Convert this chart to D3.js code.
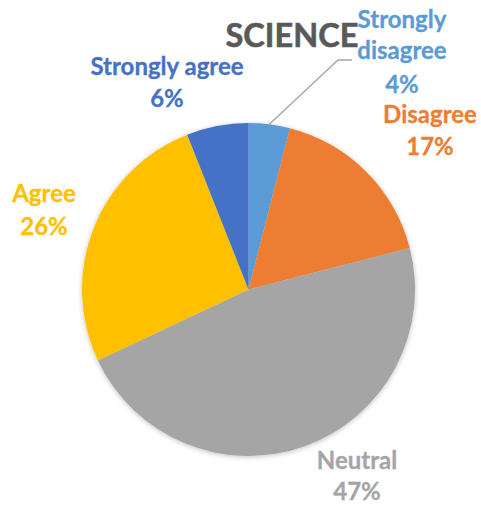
<!DOCTYPE html>
<html><head><meta charset="utf-8">
<script src="https://cdn.jsdelivr.net/npm/d3@7"></script>
<style>body{margin:0;background:#fff}svg{display:block}</style>
</head><body>
<script>
const categories = ["Strongly disagree","Disagree","Neutral","Agree","Strongly agree"];
const values = [4,17,47,26,6];
const colors = ["#5B9BD5","#ED7D31","#A5A5A5","#FFC000","#4472C4"];
const title = "SCIENCE";

const W=481,H=505, cx=248.5, cy=289.5, R=166.5;
const svg=d3.select("body").append("svg").attr("width",W).attr("height",H);
const defs=svg.append("defs");
const f=defs.append("filter").attr("id","sh").attr("x","-20%").attr("y","-20%").attr("width","140%").attr("height","140%");
f.append("feDropShadow").attr("dx",0).attr("dy",1).attr("stdDeviation",2.5).attr("flood-color","#000").attr("flood-opacity",0.25);

const data=categories.map((c,i)=>({c,v:values[i],col:colors[i]}));
const pie=d3.pie().sort(null).value(d=>d.v);
const arc=d3.arc().innerRadius(0).outerRadius(R);
const g=svg.append("g").attr("transform",`translate(${cx},${cy})`);
g.append("g").attr("filter","url(#sh)").selectAll("path").data(pie(data)).join("path")
 .attr("d",arc).attr("fill",d=>d.data.col);

// leader line for Strongly disagree
const arcs=pie(data);
const a0=(arcs[0].startAngle+arcs[0].endAngle)/2;
const px=cx+R*Math.sin(a0), py=cy-R*Math.cos(a0);
svg.append("polyline").attr("points",`${px},${py} 338,60 352,60`).attr("fill","none").attr("stroke","#A6A6A6").attr("stroke-width",1.3);

svg.append("text").attr("x",292).attr("y",47).attr("text-anchor","middle")
 .style("font-family","Lato").style("font-weight","bold").style("font-size","32.5px")
 .attr("fill","#595959").attr("stroke","#595959").attr("stroke-width",0.6).text(title);

const labelPos=[
 {x:402,lines:[[ "Strongly",28],["disagree",59],["4%",93]]},
 {x:430,lines:[["Disagree",123],["17%",155]]},
 {x:357,lines:[["Neutral",469],["47%",500]]},
 {x:44,lines:[["Agree",202],["26%",235]]},
 {x:167,lines:[["Strongly agree",75],["6%",107]]}
];
data.forEach((d,i)=>{
  const pct=Math.round(d.v/d3.sum(values)*100)+"%";
  const t=svg.append("text").attr("text-anchor","middle").attr("fill",d.col)
   .attr("stroke",d.col).attr("stroke-width",0.3)
   .style("font-family","Lato").style("font-weight","bold").style("font-size","24px");
  labelPos[i].lines.forEach((l,j)=>{
    const txt = j===labelPos[i].lines.length-1 ? pct : l[0];
    t.append("tspan").attr("x",labelPos[i].x).attr("y",l[1]).text(txt);
  });
});
</script>
</body></html>
